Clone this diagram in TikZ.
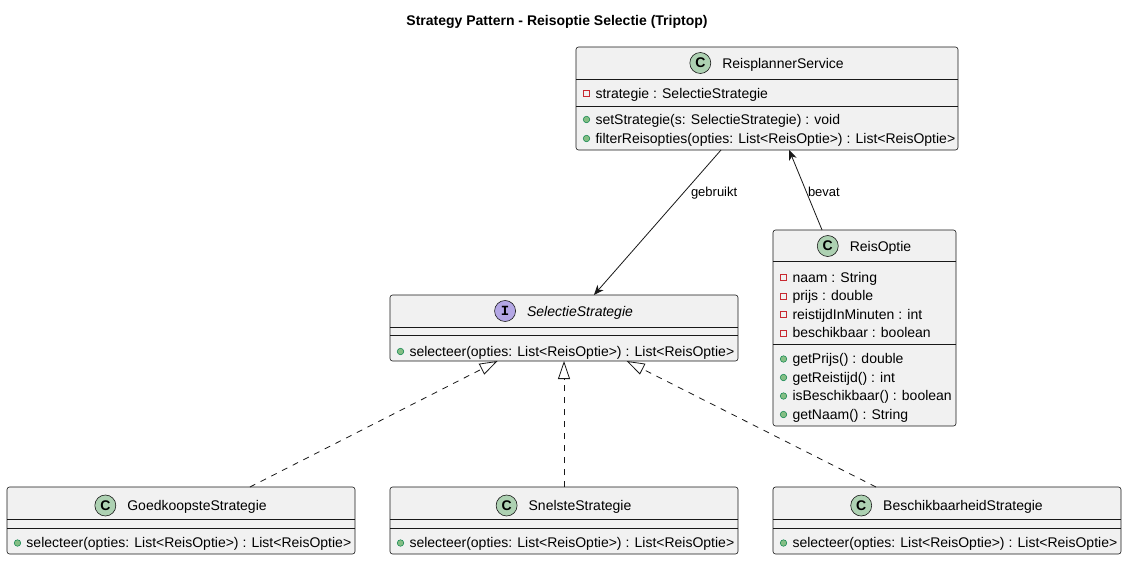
\documentclass[tikz,border=0pt]{standalone}
\usepackage{fontspec}
\setmainfont{Liberation Sans}
\newfontfamily\spotmono{Liberation Mono}
\usetikzlibrary{calc,arrows.meta}
\definecolor{boxfill}{HTML}{F1F1F1}
\definecolor{boxline}{HTML}{181818}
\definecolor{cgreen}{HTML}{ADD1B2}
\definecolor{ipurple}{HTML}{B4A7E5}
\definecolor{privred}{HTML}{C82930}
\definecolor{pubfill}{HTML}{84BE84}
\definecolor{publine}{HTML}{038048}
\tikzset{
  umlbox/.style={draw=boxline, fill=boxfill, line width=0.6pt, rounded corners=2.5pt, inner sep=0pt, outer sep=0pt},
  sepline/.style={draw=boxline, line width=0.6pt},
  member/.style={inner sep=0pt, outer sep=0pt, anchor=base west, font=\fontsize{14}{16}\selectfont},
  clsname/.style={inner sep=0pt, outer sep=0pt, anchor=base, font=\fontsize{14}{16}\selectfont},
  spot/.style={circle, draw=boxline, line width=0.6pt, minimum size=21pt, inner sep=0pt},
  privicon/.style={rectangle, draw=privred, line width=0.7pt, minimum size=6pt, inner sep=0pt},
  pubicon/.style={circle, draw=publine, fill=pubfill, line width=0.5pt, minimum size=6.5pt, inner sep=0pt},
  assoc/.style={draw=boxline, line width=0.8pt, -{Stealth[length=10pt,width=8pt,inset=3pt]}},
  realize/.style={draw=boxline, line width=0.8pt, dash pattern=on 6pt off 6pt, -{Triangle[open,length=18pt,width=12pt,fill=white]}},
  lbl/.style={inner sep=0pt, outer sep=0pt, anchor=base west, font=\fontsize{13}{15}\selectfont},
}
\newcommand{\privattr}[4]{\node[member] (#1) at (#2,#3) {#4}; \node[privicon] (#1i) at ($(#1.base west)+(-9,-4.5)$) {};}
\newcommand{\pubmeth}[4]{\node[member] (#1) at (#2,#3) {#4}; \node[pubicon] (#1i) at ($(#1.base west)+(-9,-4.5)$) {};}
\newcommand{\seps}[3]{\draw[sepline] ($(#1.north west)+(0,#2)$) -- ($(#1.north east)+(0,#2)$); \draw[sepline] ($(#1.north west)+(0,#3)$) -- ($(#1.north east)+(0,#3)$);}
\begin{document}
\begin{tikzpicture}[x=1pt,y=-1pt]
\useasboundingbox[fill=white] (0,0) rectangle (1127,560);

% title
\node[inner sep=0pt, anchor=base, font=\fontsize{14}{16}\selectfont\bfseries] (title) at (557,25) {Strategy Pattern - Reisoptie Selectie (Triptop)};

% boxes
\node[umlbox, minimum width=382pt, minimum height=103pt] (rs) at (767,98.5) {};
\node[umlbox, minimum width=183pt, minimum height=196pt] (ro) at (864.5,328) {};
\node[umlbox, minimum width=348pt, minimum height=66pt] (ss) at (564,328) {};
\node[umlbox, minimum width=348pt, minimum height=67pt] (gs) at (181,520.5) {};
\node[umlbox, minimum width=348pt, minimum height=67pt] (sn) at (564,520.5) {};
\node[umlbox, minimum width=348pt, minimum height=67pt] (bs) at (947,520.5) {};

\seps{rs}{32}{59}
\seps{ro}{31}{114}
\seps{ss}{32}{40}
\seps{gs}{32}{41}
\seps{sn}{32}{41}
\seps{bs}{32}{41}

% headers
\node[clsname] (rsn) at (783,68) {ReisplannerService};
\node[spot, fill=cgreen, font=\fontsize{14}{16}\selectfont\bfseries] (rss) at ($(rsn.base west)+(-22,-5)$) {C};
\node[clsname] (ron) at (880.5,251) {ReisOptie};
\node[spot, fill=cgreen, font=\fontsize{14}{16}\selectfont\bfseries] (ros) at ($(ron.base west)+(-22,-5)$) {C};
\node[clsname, font=\fontsize{14}{16}\selectfont\itshape] (ssn) at (580,316) {SelectieStrategie};
\node[spot, fill=ipurple, font=\fontsize{14}{16}\selectfont\spotmono\bfseries] (sss) at ($(ssn.base west)+(-22,-5)$) {I};
\node[clsname] (gsn) at (197,510.5) {GoedkoopsteStrategie};
\node[spot, fill=cgreen, font=\fontsize{14}{16}\selectfont\bfseries] (gss) at ($(gsn.base west)+(-22,-5)$) {C};
\node[clsname] (snn) at (580,510.5) {SnelsteStrategie};
\node[spot, fill=cgreen, font=\fontsize{14}{16}\selectfont\bfseries] (sns) at ($(snn.base west)+(-22,-5)$) {C};
\node[clsname] (bsn) at (963,510.5) {BeschikbaarheidStrategie};
\node[spot, fill=cgreen, font=\fontsize{14}{16}\selectfont\bfseries] (bss) at ($(bsn.base west)+(-22,-5)$) {C};

% ReisplannerService members
\privattr{rsa1}{595.5}{98}{strategie : SelectieStrategie}
\pubmeth{rsm1}{595.5}{124}{setStrategie(s: SelectieStrategie) : void}
\pubmeth{rsm2}{595.5}{143}{filterReisopties(opties: List<ReisOptie>) : List<ReisOptie>}

% ReisOptie members
\privattr{roa1}{792.5}{282}{naam : String}
\privattr{roa2}{792.5}{300.5}{prijs : double}
\privattr{roa3}{792.5}{319}{reistijdInMinuten : int}
\privattr{roa4}{792.5}{337.5}{beschikbaar : boolean}
\pubmeth{rom1}{792.5}{363.5}{getPrijs() : double}
\pubmeth{rom2}{792.5}{382}{getReistijd() : int}
\pubmeth{rom3}{792.5}{400.5}{isBeschikbaar() : boolean}
\pubmeth{rom4}{792.5}{419}{getNaam() : String}

% SelectieStrategie
\pubmeth{ssm1}{409.5}{356}{selecteer(opties: List<ReisOptie>) : List<ReisOptie>}
% bottom classes
\pubmeth{gsm1}{26.5}{547.5}{selecteer(opties: List<ReisOptie>) : List<ReisOptie>}
\pubmeth{snm1}{409.5}{547.5}{selecteer(opties: List<ReisOptie>) : List<ReisOptie>}
\pubmeth{bsm1}{792.5}{547.5}{selecteer(opties: List<ReisOptie>) : List<ReisOptie>}

% associations
\draw[assoc] ($(rs.south west)!0.3796!(rs.south east)$) -- ($(ss.north west)!0.586!(ss.north east)$);
\draw[assoc] ($(ro.north west)!0.268!(ro.north east)$) -- ($(rs.south west)!0.558!(rs.south east)$);
\node[lbl] (lgeb) at (691,196.5) {gebruikt};
\node[lbl] (lbev) at (808,196.5) {bevat};

% realizations
\draw[realize] ($(gs.north west)!0.698!(gs.north east)$) -- ($(ss.south west)!0.309!(ss.south east)$);
\draw[realize] (sn.north) -- (ss.south);
\draw[realize] ($(bs.north west)!0.296!(bs.north east)$) -- ($(ss.south west)!0.68!(ss.south east)$);
\end{tikzpicture}
\end{document}
